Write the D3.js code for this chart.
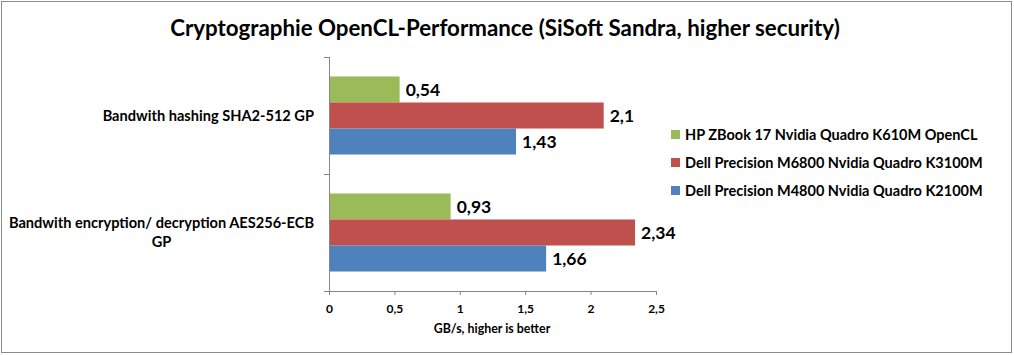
<!DOCTYPE html>
<html><head><meta charset="utf-8">
<script src="https://cdn.jsdelivr.net/npm/d3@7"></script>
<style>body{margin:0;background:#fff}svg{display:block}text{font-family:Lato,"Open Sans",sans-serif;font-weight:bold;fill:#000}</style>
</head><body><svg id="c" width="1014" height="355"></svg>
<script>
const title = "Cryptographie OpenCL-Performance (SiSoft Sandra, higher security)";
const categories = ["Bandwith hashing SHA2-512 GP", "Bandwith encryption/ decryption AES256-ECB GP"];
const categoryLines = [["Bandwith hashing SHA2-512 GP"], ["Bandwith encryption/ decryption AES256-ECB", "GP"]];
const seriesNames = ["HP ZBook 17 Nvidia Quadro K610M OpenCL", "Dell Precision M6800 Nvidia Quadro K3100M", "Dell Precision M4800 Nvidia Quadro K2100M"];
const seriesColors = ["#9BBB59", "#C0504D", "#4F81BD"];
const hpValues = [0.54, 0.93];
const m6800Values = [2.1, 2.34];
const m4800Values = [1.43, 1.66];
const xTicks = [0, 0.5, 1, 1.5, 2, 2.5];
const xTickLabels = ["0", "0,5", "1", "1,5", "2", "2,5"];
const axisTitle = "GB/s, higher is better";
const seriesValues = [hpValues, m6800Values, m4800Values];

const svg = d3.select("#c");
svg.append("rect").attr("x",1.5).attr("y",1.5).attr("width",1010).attr("height",351).attr("fill","#fff").attr("stroke","#8c8c8c").attr("stroke-width",1);

const L = 329, R = 656, T = 57, B = 291;
const x = d3.scaleLinear().domain([0, 2.5]).range([L, R]);
const y = d3.scaleBand().domain(categories).range([T, B]).paddingInner(0.333).paddingOuter(0.1665);
const sub = d3.scaleBand().domain(d3.range(3)).range([0, y.bandwidth()]);

svg.append("text").attr("x",505).attr("y",36).attr("text-anchor","middle").style("font-size","22.3px").text(title);

// bars
categories.forEach((c, ci) => {
  seriesValues.forEach((vals, si) => {
    const v = vals[ci];
    const by = y(c) + sub(si);
    svg.append("rect").attr("x", x(0)).attr("y", by).attr("width", x(v) - x(0)).attr("height", sub.bandwidth()).attr("fill", seriesColors[si]);
    svg.append("text").attr("x", x(v) + 6).attr("y", by + sub.bandwidth()/2).attr("dy","0.36em").style("font-size","17.5px").text(String(v).replace(".", ","));
  });
});

// x axis
const xAxis = d3.axisBottom(x).tickValues(xTicks).tickFormat((d,i)=>xTickLabels[i]).tickSizeInner(4).tickSizeOuter(0);
const gx = svg.append("g").attr("transform",`translate(0,${B})`).call(xAxis);
gx.select(".domain").attr("stroke","#868686").attr("d",`M${L-5},0.5H${R}`);
gx.selectAll(".tick line").attr("stroke","#868686");
gx.selectAll(".tick text").attr("y",13).style("font-size","12px").style("font-family","Lato,sans-serif").style("font-weight","bold").attr("fill","#000");

// y axis
svg.append("line").attr("x1",L+0.5).attr("x2",L+0.5).attr("y1",T).attr("y2",B).attr("stroke","#868686");
[T, (T+B)/2, B].forEach(v => svg.append("line").attr("x1",L-5).attr("x2",L).attr("y1",Math.round(v)+0.5).attr("y2",Math.round(v)+0.5).attr("stroke","#868686"));

svg.append("text").attr("x",492).attr("y",333).attr("text-anchor","middle").style("font-size","12.4px").text(axisTitle);

// category labels
categories.forEach((c, ci) => {
  const lines = categoryLines[ci];
  const g = svg.append("g");
  const cy = y(c) + y.bandwidth()/2;
  const lh = 19;
  const ts = lines.map((ln, li) => g.append("text").attr("y", cy + (li - (lines.length-1)/2)*lh).attr("dy","0.36em").attr("text-anchor","middle").style("font-size","14.6px").text(ln));
  const maxW = d3.max(ts, t => t.node().getComputedTextLength());
  ts.forEach(t => t.attr("x", 314 - maxW/2));
});

// legend
seriesNames.forEach((n, i) => {
  const ly = 135 + i*28;
  svg.append("rect").attr("x",671).attr("y",ly-5).attr("width",9).attr("height",9).attr("fill",seriesColors[i]);
  svg.append("text").attr("x",685).attr("y",ly).attr("dy","0.36em").style("font-size","14.5px").text(n);
});
</script></body></html>
